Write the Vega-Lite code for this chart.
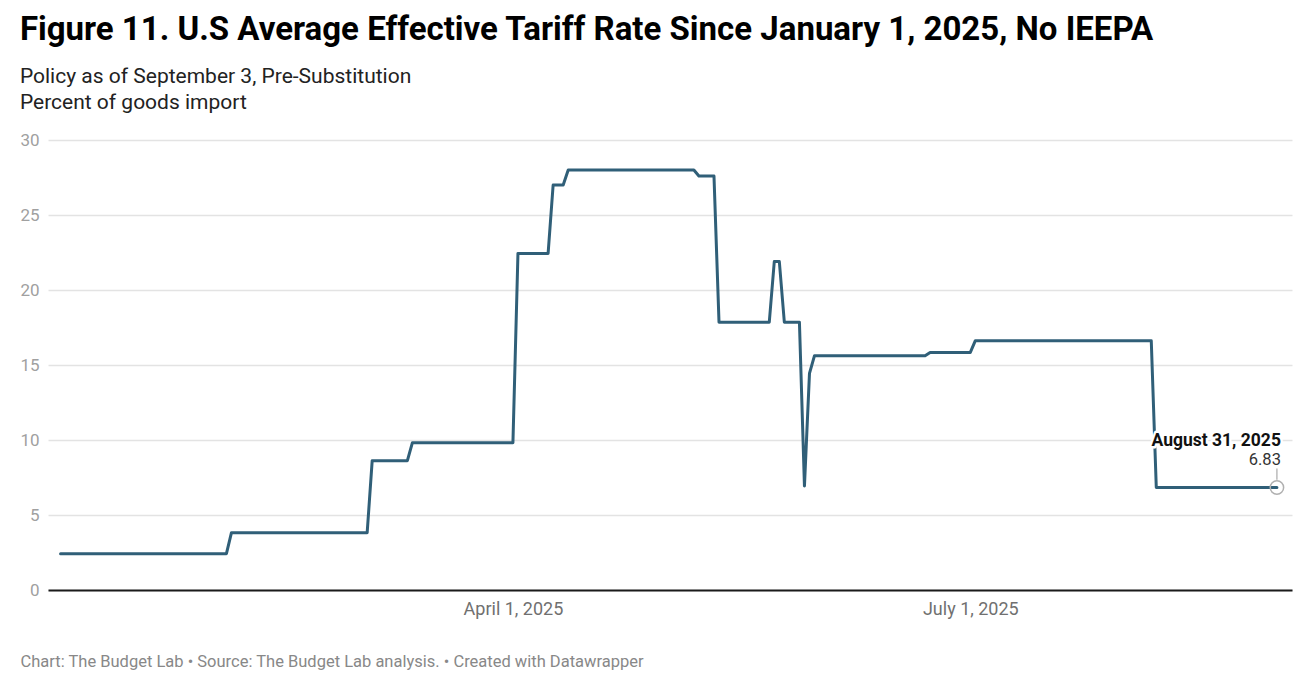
{
  "$schema": "https://vega.github.io/schema/vega-lite/v6.json",
  "width": 1244,
  "height": 450,
  "padding": {"left": 19, "top": 14, "right": 11, "bottom": 5},
  "background": "white",
  "config": {"font": "Roboto", "view": {"stroke": null}},
  "title": {
    "text": "Figure 11. U.S Average Effective Tariff Rate Since January 1, 2025, No IEEPA",
    "subtitle": ["Policy as of September 3, Pre-Substitution", "Percent of goods import"],
    "anchor": "start",
    "frame": "bounds",
    "font": "Roboto",
    "fontSize": 33,
    "fontWeight": "bold",
    "color": "#000000",
    "subtitleFont": "Roboto",
    "subtitleFontSize": 21,
    "subtitleColor": "#222222",
    "subtitleLineHeight": 26,
    "subtitlePadding": 19,
    "offset": 18
  },
  "datasets": {
    "tariff": [
      {"date": "2025-01-01", "rate": 2.42},
      {"date": "2025-02-03", "rate": 2.42},
      {"date": "2025-02-04", "rate": 3.82},
      {"date": "2025-03-03", "rate": 3.82},
      {"date": "2025-03-04", "rate": 8.62},
      {"date": "2025-03-11", "rate": 8.62},
      {"date": "2025-03-12", "rate": 9.82},
      {"date": "2025-04-01", "rate": 9.82},
      {"date": "2025-04-02", "rate": 22.44},
      {"date": "2025-04-08", "rate": 22.44},
      {"date": "2025-04-09", "rate": 27.0},
      {"date": "2025-04-11", "rate": 27.0},
      {"date": "2025-04-12", "rate": 28.0},
      {"date": "2025-05-07", "rate": 28.0},
      {"date": "2025-05-08", "rate": 27.6},
      {"date": "2025-05-11", "rate": 27.6},
      {"date": "2025-05-12", "rate": 17.85},
      {"date": "2025-05-22", "rate": 17.85},
      {"date": "2025-05-23", "rate": 21.9},
      {"date": "2025-05-24", "rate": 21.9},
      {"date": "2025-05-25", "rate": 17.85},
      {"date": "2025-05-28", "rate": 17.85},
      {"date": "2025-05-29", "rate": 6.93},
      {"date": "2025-05-30", "rate": 14.44},
      {"date": "2025-05-31", "rate": 15.62},
      {"date": "2025-06-22", "rate": 15.62},
      {"date": "2025-06-23", "rate": 15.84},
      {"date": "2025-07-01", "rate": 15.84},
      {"date": "2025-07-02", "rate": 16.62},
      {"date": "2025-08-06", "rate": 16.62},
      {"date": "2025-08-07", "rate": 6.83},
      {"date": "2025-08-31", "rate": 6.83}
    ]
  },
  "data": {"name": "tariff"},
  "encoding": {
    "x": {
      "field": "date",
      "type": "temporal",
      "scale": {
        "type": "utc",
        "domain": [
          {"year": 2024, "month": 12, "date": 29, "hours": 12, "utc": true},
          {"year": 2025, "month": 9, "date": 3, "utc": true}
        ]
      },
      "axis": {
        "values": [
          {"year": 2025, "month": 4, "date": 1, "utc": true},
          {"year": 2025, "month": 7, "date": 1, "utc": true}
        ],
        "format": "%B %-d, %Y",
        "grid": false,
        "ticks": false,
        "domainColor": "#1a1a1a",
        "domainWidth": 2,
        "labelColor": "#707070",
        "labelFontSize": 18,
        "labelPadding": 10,
        "labelFont": "Roboto",
        "title": "Chart: The Budget Lab • Source: The Budget Lab analysis. • Created with Datawrapper",
        "titleFont": "Roboto",
        "titleFontSize": 16.5,
        "titleFontWeight": "normal",
        "titleColor": "#888888",
        "titleAnchor": "start",
        "titleAlign": "left",
        "titleX": -28,
        "titlePadding": 35
      }
    },
    "y": {
      "field": "rate",
      "type": "quantitative",
      "scale": {"domain": [0, 30], "nice": false},
      "axis": {
        "values": [0, 5, 10, 15, 20, 25, 30],
        "grid": true,
        "gridColor": "#e3e3e3",
        "gridWidth": 1.5,
        "domain": false,
        "ticks": false,
        "labelColor": "#a0a0a0",
        "labelFontSize": 17,
        "labelFont": "Roboto",
        "labelPadding": 9,
        "title": null
      }
    }
  },
  "layer": [
    {
      "mark": {"type": "line", "color": "#305f78", "strokeWidth": 3, "strokeJoin": "round", "strokeCap": "round"}
    },
    {
      "transform": [
        {"window": [{"op": "row_number", "as": "r"}], "sort": [{"field": "date", "order": "descending"}]},
        {"filter": "datum.r == 1"}
      ],
      "layer": [
        {
          "mark": {"type": "rule", "color": "#aaaaaa", "strokeWidth": 1.2},
          "encoding": {"y": {"datum": 7.35}, "y2": {"datum": 8.1}}
        },
        {
          "mark": {"type": "point", "shape": "circle", "filled": false, "stroke": "#b0b0b0", "strokeWidth": 1.5, "size": 180, "opacity": 1}
        },
        {
          "mark": {"type": "text", "align": "right", "baseline": "alphabetic", "dx": 4, "dy": -42, "fontSize": 17.5, "fontWeight": "bold", "font": "Roboto", "stroke": "white", "strokeWidth": 5, "strokeJoin": "round"},
          "encoding": {"text": {"field": "date", "type": "temporal", "timeUnit": "utcyearmonthdate", "format": "%B %-d, %Y"}}
        },
        {
          "mark": {"type": "text", "align": "right", "baseline": "alphabetic", "dx": 4, "dy": -42, "fontSize": 17.5, "fontWeight": "bold", "font": "Roboto", "color": "#111111"},
          "encoding": {"text": {"field": "date", "type": "temporal", "timeUnit": "utcyearmonthdate", "format": "%B %-d, %Y"}}
        },
        {
          "mark": {"type": "text", "align": "right", "baseline": "alphabetic", "dx": 4, "dy": -23, "fontSize": 16.5, "font": "Roboto", "color": "#333333"},
          "encoding": {"text": {"field": "rate", "type": "quantitative", "format": ".2f"}}
        }
      ]
    }
  ]
}
